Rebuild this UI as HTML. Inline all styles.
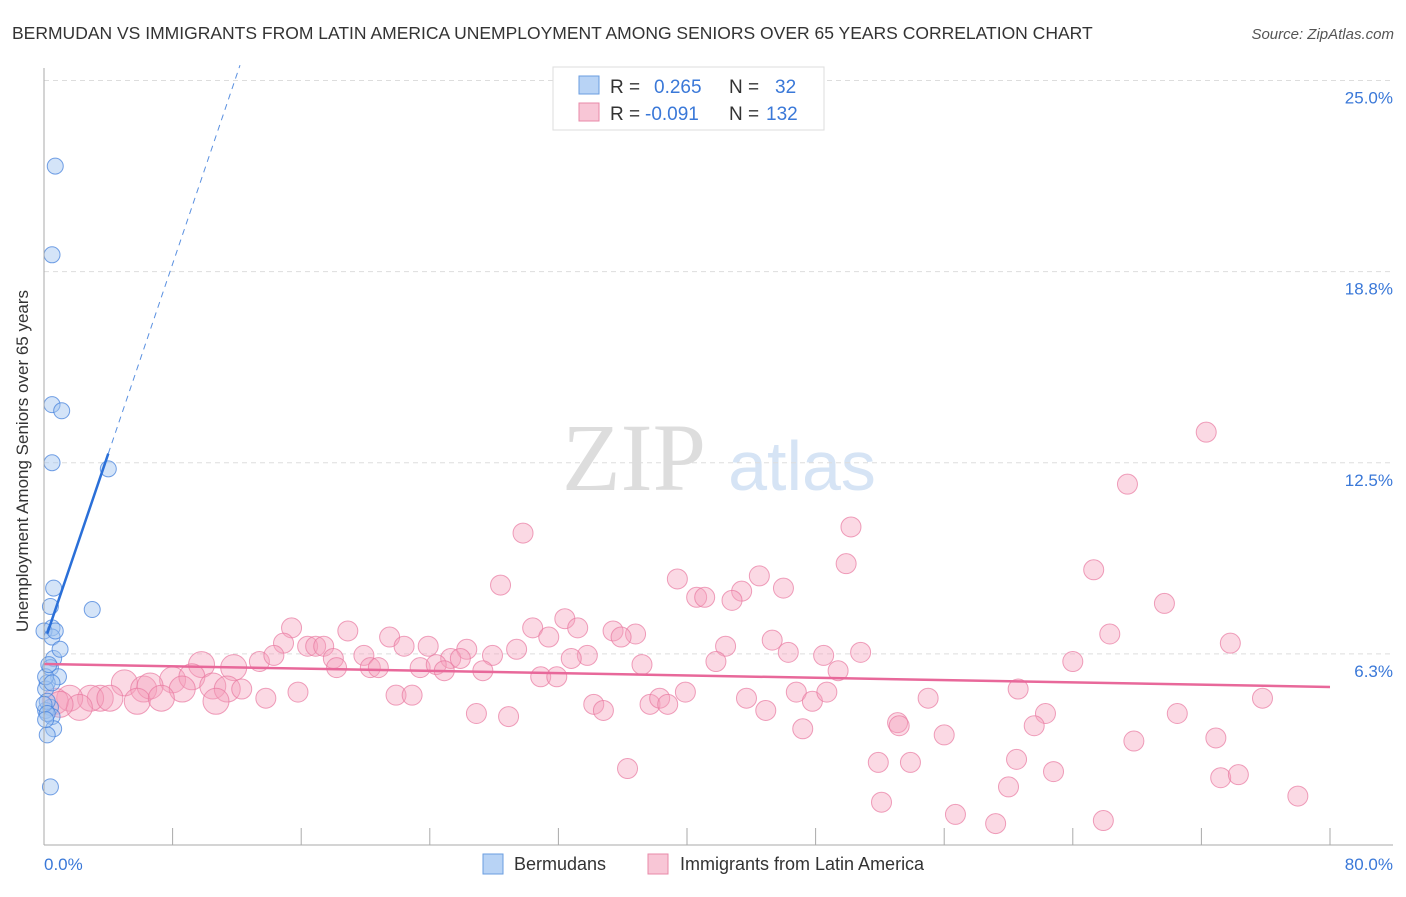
<!DOCTYPE html>
<html><head><meta charset="utf-8"><style>
body{margin:0;background:#fff;font-family:"Liberation Sans",sans-serif}
svg text{font-family:"Liberation Sans",sans-serif}
</style></head><body>
<svg id="c" width="1406" height="892" viewBox="0 0 1406 892">
<text x="12" y="39" font-size="17.5" fill="#333">BERMUDAN VS IMMIGRANTS FROM LATIN AMERICA UNEMPLOYMENT AMONG SENIORS OVER 65 YEARS CORRELATION CHART</text>
<text x="1394" y="39" font-size="15" fill="#555" font-style="italic" text-anchor="end">Source: ZipAtlas.com</text>
<text x="634" y="490" font-size="96" fill="#ddd" font-family="Liberation Serif" text-anchor="middle" style="font-family:'Liberation Serif',serif">ZIP</text>
<text x="802" y="490" font-size="70" fill="#d6e4f5" text-anchor="middle">atlas</text>
<g id="grid"></g><g id="pts"></g><g id="lines"></g>
<line x1="44" y1="68" x2="44" y2="845" stroke="#aaa"/>
<line x1="44" y1="845" x2="1393" y2="845" stroke="#aaa"/>
<text x="22" y="455" font-size="17" fill="#333" text-anchor="middle" transform="rotate(-90 28 455)">Unemployment Among Seniors over 65 years</text>
<text x="44" y="870" font-size="17" fill="#3a78d8">0.0%</text>
<text x="1393" y="870" font-size="17" fill="#3a78d8" text-anchor="end">80.0%</text>
<g>
<rect x="553" y="67" width="271" height="63" fill="#fff" stroke="#ddd"/>
<rect x="579" y="76" width="20" height="18" fill="#b8d3f5" stroke="#6a9ee0"/>
<rect x="579" y="103" width="20" height="18" fill="#f8c6d6" stroke="#e88aa8"/>
<text x="610" y="93" font-size="19" fill="#333">R =</text><text x="654" y="93" font-size="19" fill="#3a78d8">0.265</text>
<text x="729" y="93" font-size="19" fill="#333">N =</text><text x="775" y="93" font-size="19" fill="#3a78d8">32</text>
<text x="610" y="120" font-size="19" fill="#333">R =</text><text x="645" y="120" font-size="19" fill="#3a78d8">-0.091</text>
<text x="729" y="120" font-size="19" fill="#333">N =</text><text x="766" y="120" font-size="19" fill="#3a78d8">132</text>
</g>
<g>
<rect x="483" y="854" width="20" height="20" fill="#b8d3f5" stroke="#6a9ee0"/>
<text x="514" y="870" font-size="18" fill="#333">Bermudans</text>
<rect x="648" y="854" width="20" height="20" fill="#f8c6d6" stroke="#e88aa8"/>
<text x="680" y="870" font-size="18" fill="#333">Immigrants from Latin America</text>
</g>
</svg>
<script>
const yTicks=[25,18.75,12.5,6.25];
const yTickLabels=["25.0%","18.8%","12.5%","6.3%"];
const xTicks=[0,8,16,24,32,40,48,56,64,72,80];
const pinkX=[72.3,67.4,50.2,29.8,65.3,49.9,28.4,39.4,44.5,46.0,40.6,41.1,43.4,42.8,69.7,32.4,30.4,33.2,15.4,18.9,21.5,31.4,35.4,36.8,35.9,42.4,45.3,66.3,73.8,14.9,16.4,16.9,17.4,22.4,23.9,26.3,29.4,18.0,19.9,25.3,25.9,27.9,33.8,32.8,46.3,48.5,50.8,13.4,14.3,11.8,9.8,37.2,41.8,49.4,64.0,18.2,20.3,20.8,23.4,24.4,24.9,27.3,5.0,8.0,9.2,10.5,11.4,12.3,8.6,6.2,6.6,3.5,2.9,1.6,4.1,2.2,0.7,1.0,5.8,7.3,10.7,13.8,15.8,21.9,22.9,30.9,31.9,34.2,34.8,37.7,38.3,38.8,39.9,43.7,44.9,46.8,47.8,48.7,55.0,60.6,75.8,26.9,28.9,47.2,53.1,53.2,56.0,62.3,61.6,70.5,72.9,67.8,36.3,51.9,53.9,60.5,62.8,73.2,74.3,60.0,52.1,56.7,59.2,65.9,78.0];
const pinkY=[13.5,11.8,10.4,10.2,9.0,9.2,8.5,8.7,8.8,8.4,8.1,8.1,8.3,8.0,7.9,7.4,7.1,7.1,7.1,7.0,6.8,6.8,7.0,6.9,6.8,6.5,6.7,6.9,6.6,6.6,6.5,6.5,6.5,6.5,6.5,6.4,6.4,6.1,6.2,6.1,6.1,6.2,6.2,6.1,6.3,6.2,6.3,6.0,6.2,5.8,5.9,5.9,6.0,5.7,6.0,5.8,5.8,5.8,5.8,5.9,5.7,5.7,5.3,5.4,5.5,5.2,5.1,5.1,5.1,5.1,5.2,4.8,4.8,4.8,4.8,4.5,4.7,4.6,4.7,4.8,4.7,4.8,5.0,4.9,4.9,5.5,5.5,4.6,4.4,4.6,4.8,4.6,5.0,4.8,4.4,5.0,4.7,5.0,4.8,5.1,4.8,4.3,4.2,3.8,4.0,3.9,3.6,4.3,3.9,4.3,3.5,3.4,2.5,2.7,2.7,2.8,2.4,2.2,2.3,1.9,1.4,1.0,0.7,0.8,1.6];
const blueX=[0.7,0.5,0.5,1.1,0.5,4.0,0.6,3.0,0.4,0.5,0,0.5,0.6,0.4,0.9,0.2,0.1,0.4,0.1,0.5,0.6,0.2,0.4,0.7,0.1,0.2,0,0.2,0.5,0.3,1.0,0.1];
const blueY=[22.2,19.3,14.4,14.2,12.5,12.3,8.4,7.7,7.8,7.1,7.0,6.8,6.1,5.8,5.5,5.3,5.1,4.5,4.4,4.2,3.8,3.6,1.9,7.0,5.5,4.7,4.6,4.3,5.3,5.9,6.4,4.1];
const pinkTrend=[5.92,-0.0094];
const blueTrend=[6.6,1.55];
const X=v=>44+v/80*1286, Y=v=>845-v/25*764.5;
const NS="http://www.w3.org/2000/svg";
function mk(t,a,p){const e=document.createElementNS(NS,t);for(const k in a)e.setAttribute(k,a[k]);p.appendChild(e);return e;}
const g=document.getElementById('grid'),P=document.getElementById('pts'),L=document.getElementById('lines');
yTicks.forEach((t,i)=>{
 const l=mk('line',{x1:44,x2:1393,y1:Y(t),y2:Y(t),stroke:'#ddd','stroke-dasharray':'5,4'},g);
 
 
 const tx=mk('text',{x:1393,y:Y(t)+23,'font-size':17,fill:'#3a78d8','text-anchor':'end'},g);tx.textContent=yTickLabels[i];
 
 
});
xTicks.forEach(t=>{
 const l=mk('line',{x1:X(t),x2:X(t),y1:828,y2:845,stroke:'#aaa'},g);
 
 
});
pinkX.forEach((x,i)=>{
 const r=x<12?13:10;
 const c=mk('circle',{cx:X(x),cy:Y(pinkY[i]),r:r,fill:'rgba(244,160,188,0.4)',stroke:'rgba(232,120,160,0.7)','stroke-width':1},P);
 
 
});
blueX.forEach((x,i)=>{
 const c=mk('circle',{cx:X(x),cy:Y(blueY[i]),r:8,fill:'rgba(160,196,240,0.45)',stroke:'rgba(70,130,220,0.75)','stroke-width':1},P);
 
 
});
let l=mk('line',{x1:X(0),y1:Y(pinkTrend[0]),x2:X(80),y2:Y(pinkTrend[0]+pinkTrend[1]*80),stroke:'#e8689a','stroke-width':2.5},L);


const bx0=0.2,bx1=4.0,bx2=(25.5-blueTrend[0])/blueTrend[1];
l=mk('line',{x1:X(bx0),y1:Y(blueTrend[0]+blueTrend[1]*bx0),x2:X(bx1),y2:Y(blueTrend[0]+blueTrend[1]*bx1),stroke:'#2a6fd8','stroke-width':2.5},L);


l=mk('line',{x1:X(bx1),y1:Y(blueTrend[0]+blueTrend[1]*bx1),x2:X(bx2),y2:Y(25.5),stroke:'#5a90e0','stroke-width':1,'stroke-dasharray':'6,5'},L);


</script>
</body></html>
